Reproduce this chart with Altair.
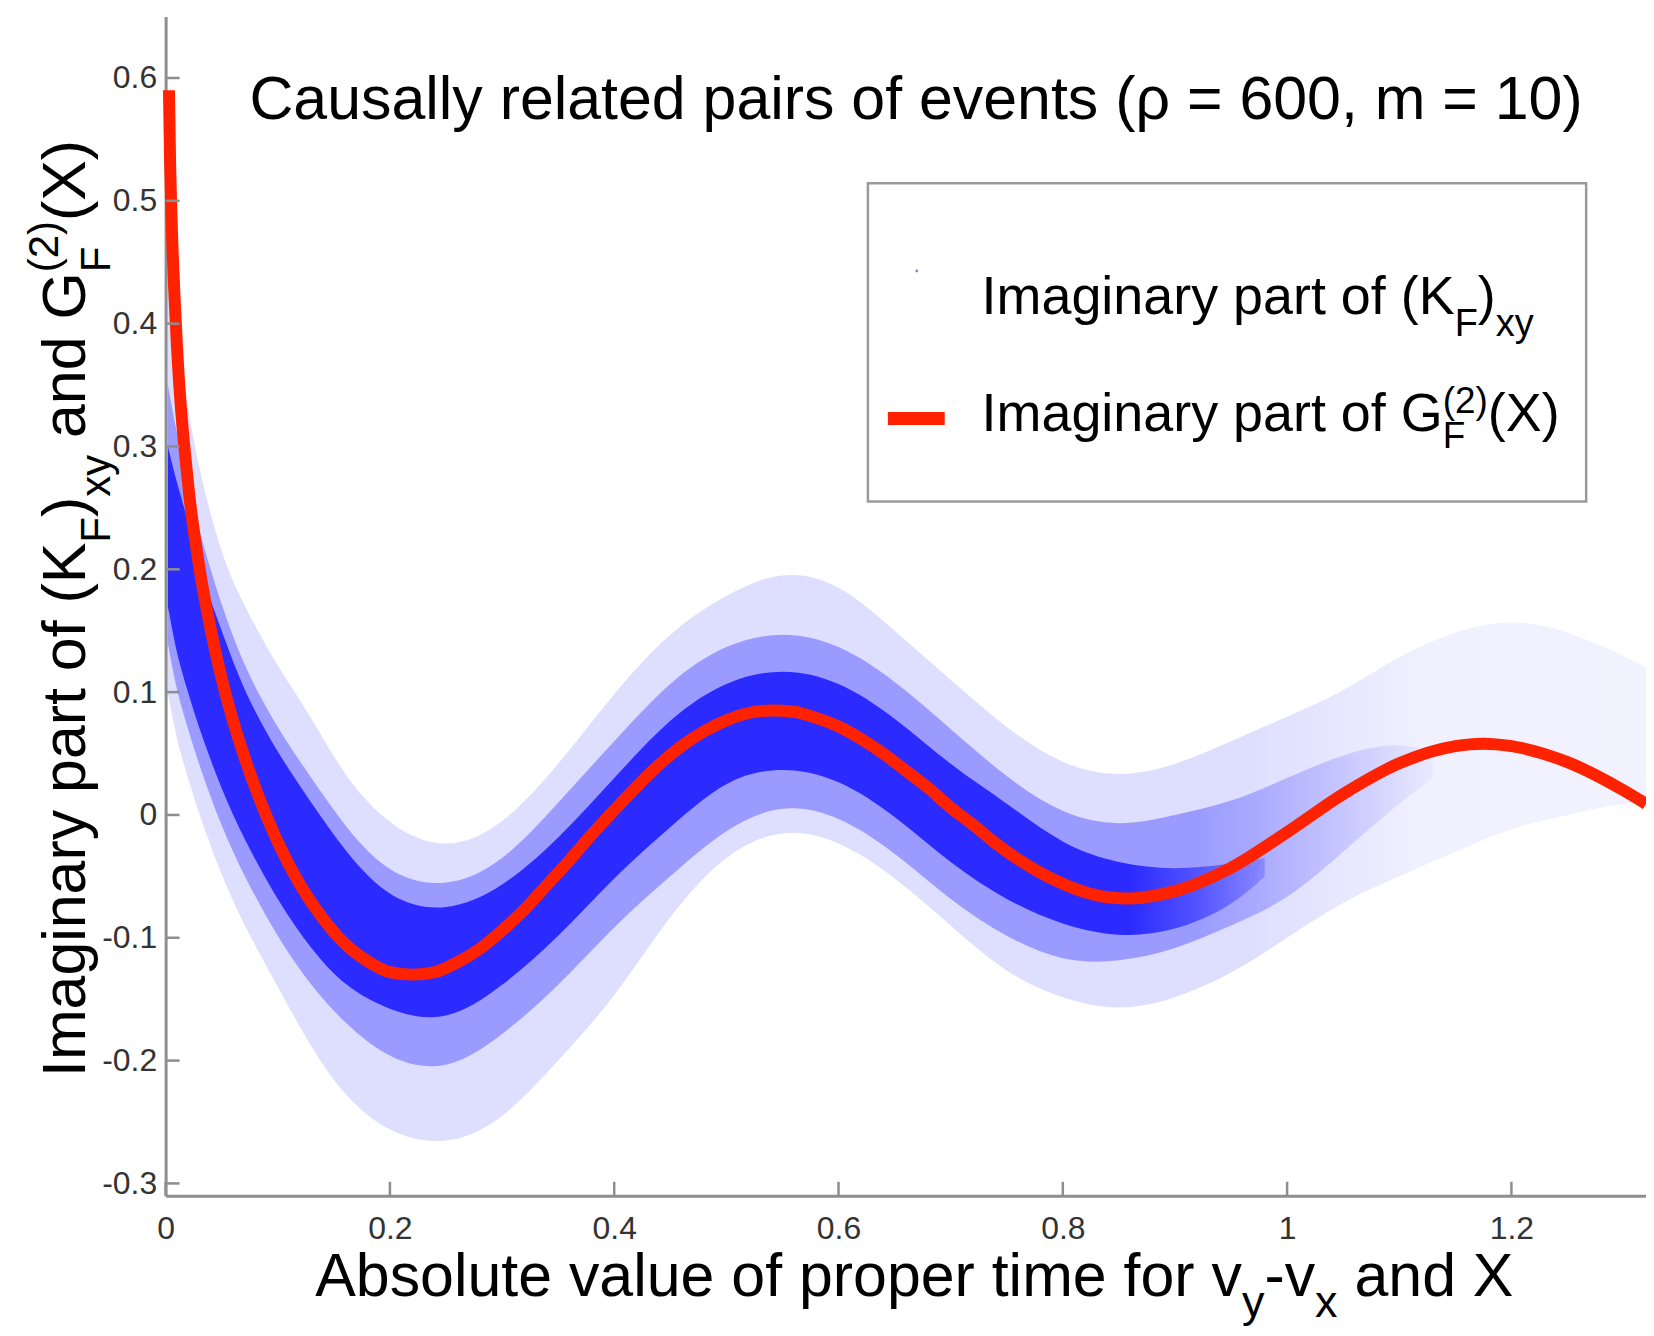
import altair as alt
import pandas as pd

# ------------------------------------------------------------------ data
# red curve: imaginary part of G_F^(2)(X)
CURVE_X = [0.003, 0.004, 0.005, 0.01, 0.02, 0.03, 0.04, 0.05, 0.06, 0.07, 0.08, 0.09,
           0.10, 0.12, 0.14, 0.16, 0.18, 0.20, 0.22, 0.24, 0.26, 0.28, 0.30, 0.32,
           0.34, 0.36, 0.38, 0.40, 0.42, 0.44, 0.46, 0.48, 0.50, 0.52, 0.54, 0.56,
           0.58, 0.60, 0.62, 0.64, 0.66, 0.68, 0.70, 0.72, 0.74, 0.76, 0.78, 0.80,
           0.82, 0.84, 0.86, 0.88, 0.90, 0.95, 1.00, 1.05, 1.10, 1.15, 1.175, 1.20,
           1.25, 1.30, 1.32]
CURVE_Y = [0.590, 0.531, 0.495, 0.384, 0.270, 0.202, 0.152, 0.111, 0.077, 0.048, 0.022, -0.001,
           -0.022, -0.057, -0.084, -0.105, -0.119, -0.128, -0.130, -0.128, -0.120, -0.109, -0.094, -0.077,
           -0.057, -0.037, -0.016, 0.004, 0.023, 0.041, 0.056, 0.068, 0.077, 0.083, 0.085, 0.084,
           0.079, 0.072, 0.062, 0.050, 0.036, 0.022, 0.006, -0.008, -0.023, -0.036, -0.047, -0.056,
           -0.063, -0.067, -0.068, -0.066, -0.062, -0.043, -0.014, 0.017, 0.042, 0.056, 0.058, 0.056,
           0.043, 0.020, 0.009]

# blue scatter cloud of (K_F)_xy, read as envelopes: outer (sparse) / medium / dense
FAINT_X = [0.002, 0.01, 0.02, 0.03, 0.05, 0.07, 0.10, 0.13, 0.16, 0.20, 0.25, 0.30, 0.35,
           0.40, 0.45, 0.50, 0.55, 0.60, 0.65, 0.70, 0.75, 0.80, 0.85, 0.90, 0.95, 1.00,
           1.05, 1.10, 1.15, 1.20, 1.25, 1.30, 1.32]
FAINT_LO = [0.10, 0.06, 0.03, 0.00, -0.05, -0.09, -0.14, -0.19, -0.23, -0.26, -0.27, -0.25, -0.20,
            -0.15, -0.08, -0.03, -0.01, -0.02, -0.05, -0.09, -0.13, -0.15, -0.16, -0.15, -0.13, -0.10,
            -0.07, -0.05, -0.03, -0.01, 0.00, 0.01, 0.01]
FAINT_HI = [0.45, 0.39, 0.33, 0.28, 0.21, 0.17, 0.12, 0.08, 0.03, -0.01, -0.03, -0.01, 0.04,
            0.10, 0.15, 0.18, 0.20, 0.19, 0.15, 0.11, 0.07, 0.04, 0.03, 0.04, 0.06, 0.08,
            0.10, 0.13, 0.15, 0.16, 0.15, 0.13, 0.12]

MID_X = [0.002, 0.01, 0.02, 0.03, 0.05, 0.07, 0.10, 0.13, 0.16, 0.20, 0.25, 0.30, 0.35, 0.40,
         0.45, 0.50, 0.55, 0.60, 0.65, 0.70, 0.75, 0.80, 0.85, 0.90, 0.95, 1.00, 1.05, 1.10, 1.13]
MID_LO = [0.14, 0.10, 0.07, 0.04, -0.01, -0.05, -0.10, -0.14, -0.17, -0.20, -0.21, -0.18, -0.14, -0.09,
          -0.05, -0.01, 0.01, 0.00, -0.03, -0.07, -0.10, -0.12, -0.12, -0.11, -0.09, -0.07, -0.03, 0.01, 0.03]
MID_HI = [0.35, 0.31, 0.27, 0.23, 0.17, 0.12, 0.07, 0.03, -0.01, -0.05, -0.06, -0.04, 0.01, 0.06,
          0.11, 0.14, 0.15, 0.14, 0.11, 0.07, 0.03, 0.00, -0.01, 0.00, 0.01, 0.03, 0.05, 0.06, 0.05]

CORE_X = [0.002, 0.01, 0.02, 0.03, 0.05, 0.07, 0.10, 0.13, 0.16, 0.20, 0.25, 0.30, 0.35, 0.40,
          0.45, 0.50, 0.55, 0.60, 0.65, 0.70, 0.75, 0.80, 0.85, 0.90, 0.95, 0.98]
CORE_LO = [0.17, 0.13, 0.10, 0.07, 0.02, -0.02, -0.07, -0.11, -0.14, -0.16, -0.17, -0.14, -0.10, -0.05,
           -0.01, 0.03, 0.04, 0.03, 0.00, -0.04, -0.07, -0.09, -0.10, -0.095, -0.075, -0.05]
CORE_HI = [0.30, 0.27, 0.24, 0.20, 0.15, 0.10, 0.05, 0.01, -0.03, -0.07, -0.08, -0.06, -0.02, 0.03,
           0.08, 0.11, 0.12, 0.11, 0.08, 0.04, 0.01, -0.025, -0.04, -0.045, -0.04, -0.035]

X_TICKS = [0, 0.2, 0.4, 0.6, 0.8, 1.0, 1.2]
Y_TICKS = [-0.3, -0.2, -0.1, 0, 0.1, 0.2, 0.3, 0.4, 0.5, 0.6]

TITLE = "Causally related pairs of events (\u03c1 = 600, m = 10)"
# (text, size, baseline shift, advances); a leading space becomes a gap
Y_TITLE = [("Imaginary part of (K", 61, 0, True), ("F", 42, 25, True), (")", 61, 0, True),
           ("xy", 42, 25, True), (" and G", 61, 0, True), ("F", 42, 25, False),
           ("(2)", 42, -27, True), ("(X)", 61, 0, True)]
X_TITLE = [("Absolute value of proper time for v", 61, 0, True), ("y", 45, 21, True),
           ("-v", 61, 0, True), ("x", 45, 21, True), (" and X", 61, 0, True)]
LEG1 = [("Imaginary part of (K", 54, 0, True), ("F", 38, 22, True), (")", 54, 0, True),
        ("xy", 38, 22, True)]
LEG2 = [("Imaginary part of G", 54, 0, True), ("F", 37, 17, False), ("(2)", 37, -18, True),
        ("(X)", 54, 0, True)]

# ------------------------------------------------------------------ layout / style
FONT = "Liberation Sans"
OX, OY = 166, 15          # page position of plot origin
W, H = 1484, 1182
XMAX, YMIN, YMAX = 1.32, -0.31, 0.65
GRAY = "#8e8e8e"
LABEL = "#333333"
RED = "#ff2200"

W_EM = {' ': .278, 'I': .278, 'm': .833, 'a': .556, 'g': .556, 'i': .222, 'n': .556,
        'r': .333, 'y': .5, 'p': .556, 't': .278, 'o': .556, 'f': .278, '(': .333, ')': .333,
        'K': .667, 'F': .611, 'x': .5, 'd': .556, 'G': .778, '2': .556, 'X': .667, 'A': .667,
        'b': .556, 's': .5, 'l': .222, 'u': .556, 'e': .556, 'v': .5, '-': .333}

xs = alt.Scale(domain=[0, XMAX], nice=False, zero=False)
ys = alt.Scale(domain=[YMIN, YMAX], nice=False, zero=False)
lab_expr = "datum.value < 0 ? '-' + format(-datum.value, '~g') : format(datum.value, '~g')"
common_axis = dict(title=None, ticks=False, tickSize=0, domainColor=GRAY, domainWidth=3,
                   labelFontSize=32, labelFont=FONT, labelColor=LABEL, labelFlush=False,
                   grid=False, labelOverlap=False, labelExpr=lab_expr)
xaxis = alt.Axis(values=X_TICKS, labelPadding=18, **common_axis)
yaxis = alt.Axis(values=Y_TICKS, labelPadding=9, **common_axis)

one = pd.DataFrame({"a": [0]})


def fade(xv, stops):
    """horizontal gradient of blue; stops given as (x in data units, alpha)"""
    x0, x1 = xv[0], xv[-1]
    gs = [alt.GradientStop(color=f"rgba(0,0,255,{a})",
                           offset=min(1.0, max(0.0, (x - x0) / (x1 - x0)))) for x, a in stops]
    return alt.LinearGradient(gradient="linear", stops=gs, x1=0, x2=1, y1=0, y2=0)


def band(xv, lo, hi, stops):
    df = pd.DataFrame({"x": xv, "lo": lo, "hi": hi})
    return alt.Chart(df).mark_area(color=fade(xv, stops), interpolate="basis").encode(
        x=alt.X("x:Q", scale=xs, axis=xaxis),
        y=alt.Y("lo:Q", scale=ys, axis=yaxis),
        y2="hi:Q")


def text_layer(t, x, y, size, angle=0):
    return alt.Chart(one).mark_text(text=t, x=x - OX, y=y - OY, fontSize=size, font=FONT,
                                    angle=angle, align="left", baseline="alphabetic",
                                    color="black")


def run(pieces, x0, y0, rotated=False):
    pos = 0.0
    out = []
    for t, size, shift, adv in pieces:
        if t.startswith(" "):
            pos += W_EM[' '] * size
            t = t.lstrip(" ")
        w = sum(W_EM.get(c, 0.56) for c in t) * size
        if rotated:
            out.append(text_layer(t, x0 + shift, y0 - pos, size, 270))
        else:
            out.append(text_layer(t, x0 + pos, y0 + shift, size, 0))
        if adv:
            pos += w
    return out


layers = [
    band(FAINT_X, FAINT_LO, FAINT_HI,
         [(0.0, 0.13), (0.97, 0.13), (1.12, 0.06), (1.32, 0.05)]),
    band(MID_X, MID_LO, MID_HI,
         [(0.0, 0.30), (0.92, 0.30), (1.05, 0.14), (1.13, 0.03)]),
    band(CORE_X, CORE_LO, CORE_HI,
         [(0.0, 0.72), (0.86, 0.72), (0.98, 0.2)]),
]

curve = alt.Chart(pd.DataFrame({"x": CURVE_X, "y": CURVE_Y})).mark_line(
    color=RED, strokeWidth=12, interpolate="monotone", strokeCap="butt").encode(
    x=alt.X("x:Q", scale=xs, axis=xaxis), y=alt.Y("y:Q", scale=ys, axis=yaxis))
layers.append(curve)

ytick = alt.Chart(pd.DataFrame({"v": Y_TICKS})).mark_rule(color=GRAY, strokeWidth=2.5).encode(
    y=alt.Y("v:Q", scale=ys, axis=yaxis), x=alt.value(0), x2=alt.value(14))
xtick = alt.Chart(pd.DataFrame({"v": X_TICKS})).mark_rule(color=GRAY, strokeWidth=2.5).encode(
    x=alt.X("v:Q", scale=xs, axis=xaxis), y=alt.value(H), y2=alt.value(H - 14))
layers += [ytick, xtick]

# legend
legbox = alt.Chart(one).mark_rect(fill="white", stroke="#9a9a9a", strokeWidth=2.5).encode(
    x=alt.value(870 - OX), x2=alt.value(1590 - OX), y=alt.value(182 - OY), y2=alt.value(501 - OY))
legdot = alt.Chart(one).mark_circle(size=8, color="#8080ff", opacity=1).encode(
    x=alt.value(919 - OX), y=alt.value(270 - OY))
legline = alt.Chart(one).mark_rule(color=RED, strokeWidth=13, strokeCap="butt").encode(
    x=alt.value(890 - OX), x2=alt.value(947 - OX), y=alt.value(418 - OY))
layers += [legbox, legdot, legline]

layers += run(LEG1, 984, 313)
layers += run(LEG2, 984, 430)
layers.append(text_layer(TITLE, 250, 118, 61))
layers += run(X_TITLE, 316, 1298)
layers += run(Y_TITLE, 85, 1078, rotated=True)

chart = alt.layer(*layers).properties(
    width=W, height=H,
    padding={"left": OX - 8, "top": OY - 8, "right": 0, "bottom": 131},
    autosize=alt.AutoSizeParams(type="none"),
).configure_view(stroke=None)

chart.save("out.html", embed_options={"renderer": "svg", "actions": False})
